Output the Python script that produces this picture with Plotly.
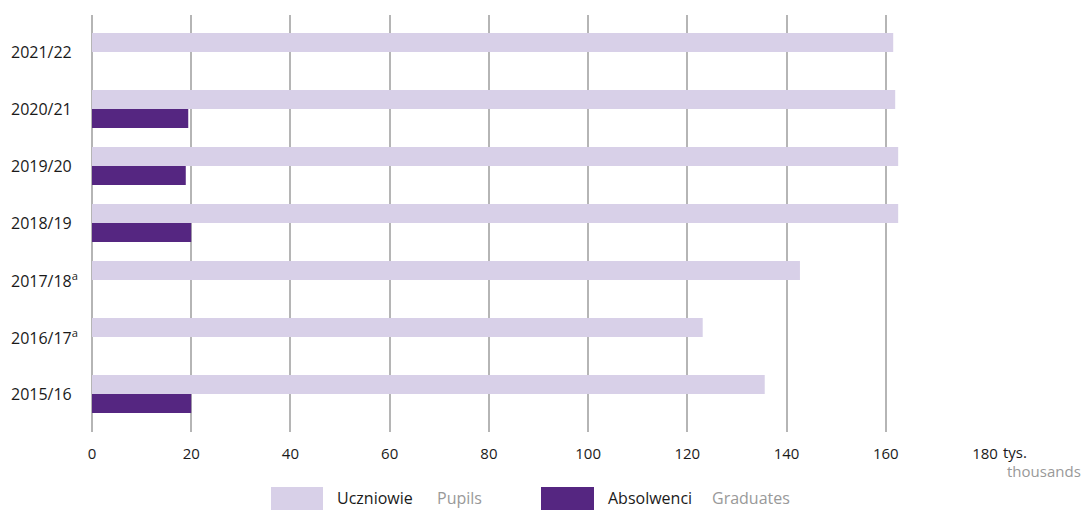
import plotly.graph_objects as go

# data (thousands), bottom to top
years = ["2015/16", "2016/17", "2017/18", "2018/19", "2019/20", "2020/21", "2021/22"]
year_labels = ["2015/16", "2016/17<sup>a</sup>", "2017/18<sup>a</sup>", "2018/19", "2019/20", "2020/21", "2021/22"]
pupils = [135.6, 123.1, 142.7, 162.5, 162.5, 161.9, 161.5]
graduates = [20.0, None, None, 20.0, 18.9, 19.4, None]

x_ticks = [0, 20, 40, 60, 80, 100, 120, 140, 160, 180]

PUPILS_COLOR = "#d8d0e8"
GRAD_COLOR = "#552681"
GRID = "#b5b5b5"
FONT = "Open Sans"

fig = go.Figure()
# graduates first so they sit below pupils in each group
fig.add_trace(go.Bar(y=years, x=graduates, orientation="h", marker_color=GRAD_COLOR,
                     marker_line_width=0, name="Absolwenci", showlegend=False))
fig.add_trace(go.Bar(y=years, x=pupils, orientation="h", marker_color=PUPILS_COLOR,
                     marker_line_width=0, name="Uczniowie", showlegend=False))

W, H = 1084, 510
L, R, T, B = 92, 99, 15, 78
pw = W - L - R

fig.update_layout(
    width=W, height=H,
    margin=dict(l=L, r=R, t=T, b=B, pad=0),
    plot_bgcolor="white", paper_bgcolor="white",
    barmode="group", bargap=0.333, bargroupgap=0,
    font=dict(family=FONT, size=15, color="#1a1a1a"),
)
fig.update_xaxes(range=[0, 180], tickvals=x_ticks, showgrid=True, gridcolor=GRID, gridwidth=2,
                 zeroline=True, zerolinecolor=GRID, zerolinewidth=2, showline=False,
                 ticks="", ticklabelstandoff=11, tickfont=dict(size=15))
fig.update_yaxes(categoryorder="array", categoryarray=years, range=[-0.667, 6.649],
                 showticklabels=False, showgrid=False, zeroline=False, showline=False)

def px_x(p):
    return (p - L) / pw

def py(p):
    return (H - B - p) / (H - T - B)

# category labels, left aligned
for yr, lab in zip(years, year_labels):
    fig.add_annotation(x=px_x(9), xref="paper", y=yr, yref="y", text=lab, showarrow=False,
                       xanchor="left", yanchor="middle", font=dict(size=16, color="#1a1a1a"))

# unit labels
fig.add_annotation(x=px_x(1001), xref="paper", y=py(452), yref="paper",
                   text="tys.", showarrow=False, xanchor="left", yanchor="middle",
                   font=dict(size=15, color="#1a1a1a"))
fig.add_annotation(x=px_x(1083), xref="paper", y=py(471), yref="paper",
                   text="thousands", showarrow=False, xanchor="right", yanchor="middle",
                   font=dict(size=15, color="#999999"))

# legend drawn by hand (big swatches)
legend = [(271, 323, PUPILS_COLOR, 335, "Uczniowie", 435, "Pupils"),
          (541, 594, GRAD_COLOR, 606, "Absolwenci", 710, "Graduates")]
for x0, x1, col, tx, pl, ex, en in legend:
    fig.add_shape(type="rect", xref="paper", yref="paper", x0=px_x(x0), x1=px_x(x1),
                  y0=py(510), y1=py(487), fillcolor=col, line_width=0, layer="above")
    fig.add_annotation(x=px_x(tx), xref="paper", y=py(498), yref="paper", text=pl,
                       showarrow=False, xanchor="left", yanchor="middle",
                       font=dict(size=16, color="#1a1a1a"))
    fig.add_annotation(x=px_x(ex), xref="paper", y=py(498), yref="paper", text=en,
                       showarrow=False, xanchor="left", yanchor="middle",
                       font=dict(size=16, color="#999999"))

fig.write_html("out.html", config={"displayModeBar": False},
               post_script="document.body.style.margin='0px';")
